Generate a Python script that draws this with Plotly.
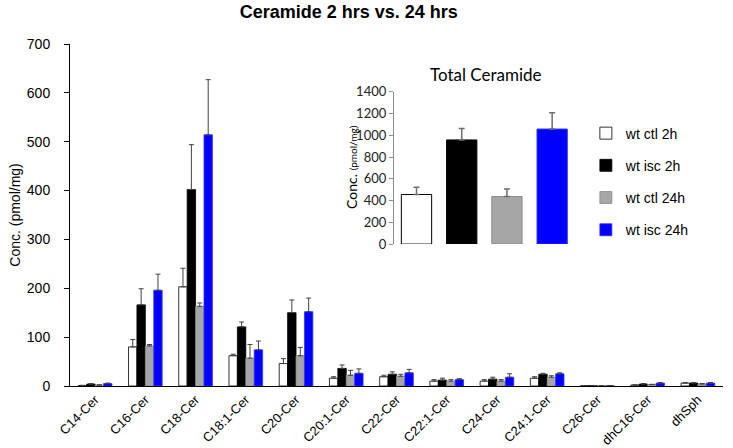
import plotly.graph_objects as go

categories = ["C14-Cer", "C16-Cer", "C18-Cer", "C18:1-Cer", "C20-Cer", "C20:1-Cer",
              "C22-Cer", "C22:1-Cer", "C24-Cer", "C24:1-Cer", "C26-Cer", "dhC16-Cer", "dhSph"]
series_names = ["wt ctl 2h", "wt isc 2h", "wt ctl 24h", "wt isc 24h"]

ctl_2h = [1, 80, 203, 62, 46, 16, 19, 10, 10, 16, 0.5, 2, 6]
ctl_2h_err = [0.5, 15, 38, 3, 10, 3, 3, 3, 3, 3, 0.2, 0.5, 1]
isc_2h = [4, 166, 402, 121, 150, 36, 24, 12, 14, 24, 0.5, 4, 6]
isc_2h_err = [1, 33, 92, 10, 26, 7, 5, 4, 4, 2, 0.2, 1, 1]
ctl_24h = [2, 82, 163, 57, 62, 22, 20, 10, 10, 18, 0.5, 3, 4]
ctl_24h_err = [0.5, 3, 7, 28, 17, 10, 4, 3, 3, 3, 0.2, 0.5, 1]
isc_24h = [5, 196, 514, 74, 152, 26, 27, 13, 18, 25, 0.5, 6, 6]
isc_24h_err = [1, 33, 113, 18, 28, 9, 7, 2, 7, 2, 0.2, 1, 1]

total_labels = ["wt ctl 2h", "wt isc 2h", "wt ctl 24h", "wt isc 24h"]
total_values = [456, 958, 437, 1058]
total_err = [66, 105, 70, 150]

fills = ["#FFFFFF", "#000000", "#A6A6A6", "#0000FF"]
edges = ["#000000", "#000000", "#8C8C8C", "#3333FF"]

values = [ctl_2h, isc_2h, ctl_24h, isc_24h]
errs = [ctl_2h_err, isc_2h_err, ctl_24h_err, isc_24h_err]

fig = go.Figure()
for i in range(4):
    fig.add_trace(go.Bar(
        x=categories, y=values[i], name=series_names[i],
        marker=dict(color=fills[i], line=dict(color=edges[i], width=0.8)),
        error_y=dict(type="data", array=errs[i], arrayminus=[0] * len(categories),
                     symmetric=False, color="#404040", thickness=1, width=2.5),
        legendgroup=series_names[i],
        xaxis="x", yaxis="y",
    ))

fig.add_trace(go.Bar(
    x=total_labels, y=total_values, showlegend=False,
    marker=dict(color=fills, line=dict(color=edges, width=1)),
    error_y=dict(type="data", array=total_err, arrayminus=[0] * 4, symmetric=False,
                 color="#6E6E6E", thickness=1.5, width=3),
    xaxis="x2", yaxis="y2",
))

fig.update_layout(
    width=733, height=448,
    margin=dict(l=70, r=10, t=44, b=62, autoexpand=False),
    paper_bgcolor="white", plot_bgcolor="rgba(0,0,0,0)",
    barmode="group", bargap=0.33, bargroupgap=0,
    font=dict(family="Liberation Sans, Arial, sans-serif", size=14, color="#000"),
    title=dict(text="<b>Ceramide 2 hrs vs. 24 hrs</b>", x=0.427, xanchor="center",
               xref="paper", y=0.975, yref="container", yanchor="middle",
               font=dict(size=18, color="#000")),
    xaxis=dict(domain=[0, 1], showline=True, linecolor="#000", linewidth=1,
               tickangle=-45, tickfont=dict(size=13), ticks="", showgrid=False,
               zeroline=False, automargin=False),
    yaxis=dict(range=[0, 700], dtick=100, showline=True, linecolor="#000", linewidth=1,
               ticks="outside", ticklen=5, tickcolor="#000", showgrid=False,
               zeroline=False, tickfont=dict(size=14), automargin=False,
               ticklabelstandoff=11,
               title=dict(text="Conc. (pmol/mg)", font=dict(size=14), standoff=2)),
    xaxis2=dict(domain=[0.496, 0.773], anchor="y2", range=[-0.5, 3.5],
                showticklabels=False, showline=False, ticks="", showgrid=False,
                zeroline=False, automargin=False),
    yaxis2=dict(domain=[0.415, 0.860], anchor="x2", range=[0, 1400], dtick=200,
                showline=True, linecolor="#8C8C8C", linewidth=1, ticks="outside",
                ticklen=4, tickcolor="#8C8C8C", showgrid=False, zeroline=False,
                automargin=False,
                tickfont=dict(family="Lato, Open Sans, sans-serif", size=13, color="#222")),
    legend=dict(x=0.79, y=0.785, xanchor="left", yanchor="top",
                font=dict(size=14, color="#000"), tracegroupgap=11,
                bgcolor="rgba(0,0,0,0)", itemwidth=30),
    annotations=[
        dict(text="Total Ceramide", xref="paper", yref="paper", x=0.637, y=0.91,
             xanchor="center", yanchor="middle", showarrow=False,
             font=dict(family="Lato, Open Sans, sans-serif", size=17, color="#000")),
        dict(text="Conc. <span style='font-size:10px'>(pmol/mg)</span>",
             xref="paper", yref="paper", x=0.43, y=0.64, xanchor="center",
             yanchor="middle", textangle=-90, showarrow=False,
             font=dict(family="Lato, Open Sans, sans-serif", size=14, color="#000")),
    ],
)

fig.write_html("out.html", config={"displayModeBar": False},
               post_script="document.body.style.margin='0';")
